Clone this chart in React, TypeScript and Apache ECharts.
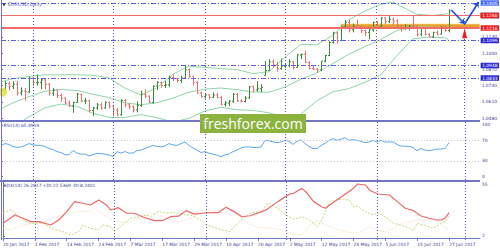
import React, { useEffect, useRef } from "react";
import * as echarts from "echarts";

// ---------- data ----------
const dateLabels = ["20 Jan 2017", "1 Feb 2017", "13 Feb 2017", "23 Feb 2017", "7 Mar 2017", "17 Mar 2017", "29 Mar 2017", "10 Apr 2017", "20 Apr 2017", "2 May 2017", "12 May 2017", "24 May 2017", "5 Jun 2017", "15 Jun 2017", "27 Jun 2017"];
const dateTickIndex = [0, 8, 16, 24, 32, 40, 48, 56, 64, 72, 80, 88, 96, 104, 112];
const monthStartIndex = [8, 28, 51, 71, 94, 116];
const priceTicks = [1.048, 1.061, 1.074, 1.087, 1.1, 1.113];
const rsiTicks = [0, 30, 70, 100];
const rsiLevels = [70, 30];
const adxTicks = [2, 55];

// open, high, low, close (one row per daily bar, 20 Jan 2017 .. 27 Jun 2017)
const ohlc = [
  [1.0655, 1.0719, 1.0627, 1.0703], [1.0703, 1.0775, 1.0695, 1.0755], [1.0755, 1.0773, 1.0700, 1.0731], [1.0731, 1.0775, 1.0712, 1.0750], [1.0750, 1.0777, 1.0661, 1.0680],
  [1.0680, 1.0724, 1.0660, 1.0696], [1.0696, 1.0720, 1.0618, 1.0690], [1.0690, 1.0810, 1.0680, 1.0798], [1.0798, 1.0810, 1.0733, 1.0762], [1.0762, 1.0829, 1.0740, 1.0765],
  [1.0765, 1.0795, 1.0710, 1.0785], [1.0785, 1.0790, 1.0709, 1.0750], [1.0750, 1.0760, 1.0660, 1.0680], [1.0680, 1.0720, 1.0658, 1.0703], [1.0703, 1.0708, 1.0640, 1.0660],
  [1.0660, 1.0674, 1.0608, 1.0640], [1.0640, 1.0645, 1.0590, 1.0600], [1.0600, 1.0620, 1.0570, 1.0575], [1.0575, 1.0610, 1.0522, 1.0605], [1.0605, 1.0680, 1.0600, 1.0670],
  [1.0670, 1.0675, 1.0605, 1.0615], [1.0615, 1.0640, 1.0590, 1.0618], [1.0618, 1.0625, 1.0525, 1.0540], [1.0540, 1.0570, 1.0495, 1.0560], [1.0560, 1.0600, 1.0545, 1.0585],
  [1.0585, 1.0605, 1.0545, 1.0560], [1.0560, 1.0615, 1.0555, 1.0605], [1.0605, 1.0610, 1.0555, 1.0575], [1.0575, 1.0580, 1.0495, 1.0545], [1.0545, 1.0560, 1.0494, 1.0505],
  [1.0505, 1.0630, 1.0500, 1.0620], [1.0620, 1.0630, 1.0565, 1.0585], [1.0585, 1.0600, 1.0550, 1.0570], [1.0570, 1.0580, 1.0525, 1.0545], [1.0545, 1.0615, 1.0525, 1.0580],
  [1.0580, 1.0700, 1.0570, 1.0670], [1.0670, 1.0710, 1.0640, 1.0655], [1.0655, 1.0660, 1.0600, 1.0605], [1.0605, 1.0740, 1.0595, 1.0735], [1.0735, 1.0775, 1.0705, 1.0765],
  [1.0765, 1.0770, 1.0720, 1.0740], [1.0740, 1.0775, 1.0720, 1.0745], [1.0745, 1.0820, 1.0730, 1.0805], [1.0805, 1.0826, 1.0775, 1.0795], [1.0795, 1.0800, 1.0765, 1.0780],
  [1.0780, 1.0820, 1.0760, 1.0800], [1.0800, 1.0906, 1.0795, 1.0865], [1.0865, 1.0875, 1.0800, 1.0815], [1.0815, 1.0815, 1.0740, 1.0765], [1.0765, 1.0775, 1.0675, 1.0680],
  [1.0680, 1.0690, 1.0645, 1.0650], [1.0650, 1.0680, 1.0635, 1.0665], [1.0665, 1.0670, 1.0630, 1.0645], [1.0645, 1.0685, 1.0640, 1.0665], [1.0665, 1.0680, 1.0640, 1.0645],
  [1.0645, 1.0655, 1.0580, 1.0590], [1.0590, 1.0615, 1.0570, 1.0600], [1.0600, 1.0625, 1.0575, 1.0615], [1.0615, 1.0680, 1.0600, 1.0670], [1.0670, 1.0680, 1.0610, 1.0615],
  [1.0615, 1.0630, 1.0605, 1.0612], [1.0612, 1.0655, 1.0605, 1.0640], [1.0640, 1.0735, 1.0635, 1.0730], [1.0730, 1.0740, 1.0685, 1.0705], [1.0705, 1.0775, 1.0690, 1.0715],
  [1.0715, 1.0750, 1.0685, 1.0725], [1.0820, 1.0935, 1.0820, 1.0860], [1.0860, 1.0950, 1.0855, 1.0930], [1.0930, 1.0950, 1.0880, 1.0905], [1.0905, 1.0930, 1.0850, 1.0875],
  [1.0875, 1.0955, 1.0865, 1.0895], [1.0895, 1.0920, 1.0880, 1.0900], [1.0900, 1.0950, 1.0885, 1.0930], [1.0930, 1.0935, 1.0870, 1.0885], [1.0885, 1.0990, 1.0880, 1.0985],
  [1.0985, 1.0995, 1.0950, 1.0990], [1.0990, 1.1020, 1.0920, 1.0925], [1.0925, 1.0935, 1.0870, 1.0875], [1.0875, 1.0900, 1.0865, 1.0870], [1.0870, 1.0880, 1.0840, 1.0865],
  [1.0865, 1.0935, 1.0855, 1.0935], [1.0935, 1.0985, 1.0925, 1.0980], [1.0980, 1.1095, 1.0975, 1.1085], [1.1085, 1.1170, 1.1075, 1.1160], [1.1160, 1.1170, 1.1075, 1.1100],
  [1.1100, 1.1213, 1.1095, 1.1210], [1.1210, 1.1265, 1.1190, 1.1245], [1.1245, 1.1268, 1.1165, 1.1185], [1.1185, 1.1235, 1.1165, 1.1215], [1.1215, 1.1265, 1.1195, 1.1210],
  [1.1210, 1.1215, 1.1160, 1.1180], [1.1180, 1.1185, 1.1135, 1.1165], [1.1165, 1.1195, 1.1110, 1.1185], [1.1185, 1.1250, 1.1170, 1.1245], [1.1245, 1.1255, 1.1200, 1.1215],
  [1.1215, 1.1285, 1.1205, 1.1280], [1.1280, 1.1285, 1.1230, 1.1250], [1.1250, 1.1295, 1.1240, 1.1270], [1.1270, 1.1285, 1.1225, 1.1255], [1.1255, 1.1270, 1.1195, 1.1210],
  [1.1210, 1.1220, 1.1170, 1.1195], [1.1195, 1.1230, 1.1185, 1.1200], [1.1200, 1.1225, 1.1180, 1.1215], [1.1215, 1.1295, 1.1195, 1.1212], [1.1212, 1.1220, 1.1130, 1.1150],
  [1.1150, 1.1200, 1.1135, 1.1195], [1.1195, 1.1210, 1.1140, 1.1150], [1.1150, 1.1160, 1.1125, 1.1130], [1.1130, 1.1170, 1.1120, 1.1165], [1.1165, 1.1180, 1.1140, 1.1150],
  [1.1150, 1.1215, 1.1150, 1.1195], [1.1195, 1.1215, 1.1170, 1.1180], [1.1180, 1.1350, 1.1165, 1.1336],
];

// Bollinger bands, [bar index, price]
const bbUpper = [[0, 1.077], [3, 1.0795], [7, 1.0812], [11, 1.0826], [15, 1.0825], [19, 1.0826], [23, 1.0822], [27, 1.08], [31, 1.072], [35, 1.0664], [39, 1.0722], [43, 1.083], [47, 1.0895], [51, 1.0885], [55, 1.0875], [59, 1.0868], [63, 1.0835], [67, 1.085], [71, 1.0965], [75, 1.107], [79, 1.1065], [83, 1.114], [87, 1.1265], [91, 1.1335], [95, 1.139], [98, 1.1408], [101, 1.136], [104, 1.131], [108, 1.13], [112, 1.1315]];
const bbMiddle = [[0, 1.0555], [3, 1.0601], [7, 1.0651], [11, 1.0694], [15, 1.0708], [19, 1.07], [23, 1.067], [27, 1.0643], [31, 1.0602], [35, 1.0586], [39, 1.0602], [43, 1.0639], [47, 1.0686], [51, 1.0711], [55, 1.072], [59, 1.0707], [63, 1.0688], [67, 1.0686], [71, 1.0727], [75, 1.079], [79, 1.0841], [83, 1.0915], [87, 1.099], [91, 1.105], [95, 1.1107], [99, 1.1179], [103, 1.1212], [107, 1.1207], [111, 1.1203], [112, 1.121]];
const bbLower = [[0, 1.034], [3, 1.0407], [7, 1.049], [11, 1.0562], [15, 1.0591], [19, 1.0574], [23, 1.0518], [27, 1.0486], [31, 1.0484], [35, 1.0508], [39, 1.0482], [43, 1.0448], [47, 1.0477], [51, 1.0537], [55, 1.0565], [59, 1.0546], [63, 1.0541], [67, 1.0522], [71, 1.0489], [75, 1.051], [79, 1.0617], [83, 1.069], [87, 1.0715], [91, 1.0765], [95, 1.0824], [99, 1.0978], [103, 1.1112], [107, 1.1127], [111, 1.1123], [112, 1.1105]];

// RSI(14), one value per bar
const rsi = [
  60, 63.5, 62, 58, 56, 57, 60, 63.5, 61, 60,
  60, 58, 54, 52, 48, 46, 42, 41.5, 50, 45,
  43, 43, 39.6, 42, 44.6, 44, 43, 41.5, 38, 48,
  45, 48, 45, 45, 50, 51, 54, 57, 60, 58,
  57, 59, 63.5, 61, 60, 63.5, 66.6, 60, 55, 51,
  46, 48, 45, 43, 41, 38, 41.5, 43, 48, 51,
  55, 57, 57, 56, 56, 57, 70, 69, 67, 65.5,
  66.6, 70, 68, 62, 68, 71, 63.5, 58, 54, 54,
  60, 64, 70, 73, 70, 72, 75, 70, 71, 70,
  68, 65.5, 66.6, 70, 66.6, 70, 66.6, 67, 66.6, 62,
  58.5, 58.5, 58, 56, 49.6, 54, 51, 49.6, 51, 52.8,
  52.8, 54, 65.5,
];

// ADX(14), [bar index, value]
const adx = [[0, 15.2], [3, 23.8], [5, 20.4], [7, 16.9], [9, 16.9], [12, 13.4], [14, 18.6], [16, 27.3], [18, 37.7], [20, 36], [22, 34.2], [24, 39.4], [26, 34.2], [27, 29], [29, 31.4], [31, 25.6], [33, 25.6], [35, 22], [38, 17.9], [40, 17.9], [42, 22], [44, 22.6], [46, 28.3], [48, 24.7], [50, 25.6], [52, 26.2], [54, 26.2], [56, 31.8], [58, 27.3], [60, 22], [62, 23], [65, 27.3], [66, 29], [69, 37.7], [72, 45.6], [73, 46.3], [75, 51.5], [76, 48], [78, 37.7], [80, 32.4], [81, 30.8], [82, 34.2], [85, 42.8], [88, 51.5], [89, 56], [91, 55], [92, 49.8], [94, 45.6], [97, 44.6], [99, 37.7], [101, 30.8], [103, 28.3], [105, 22.8], [107, 20.4], [109, 18.6], [110, 18.6], [111, 20.5], [112, 26.3]];
const plusDI = [[0, 25.6], [2, 29.7], [5, 18.6], [7, 15.2], [10, 15.2], [12, 10], [15, 6.5], [17, 3], [19, 6.5], [20, 13.4], [22, 10], [24, 8.2], [25, 13.4], [27, 11.6], [28, 6.5], [30, 13.4], [32, 20.4], [34, 22], [36, 23.8], [37, 22], [39, 27.3], [41, 25.6], [42, 26.2], [44, 25.6], [46, 23.8], [47, 23.8], [49, 20.4], [51, 13.4], [53, 11], [55, 8.2], [57, 6.5], [58, 11.6], [60, 18.6], [62, 26], [65, 27.3], [66, 34.2], [67, 36], [69, 30.8], [71, 23.8], [73, 19.3], [75, 22], [77, 18.6], [79, 11.6], [80, 18.6], [82, 37.7], [84, 40.1], [87, 39.4], [88, 32.4], [89, 33], [91, 27.3], [92, 25.6], [93, 23.8], [94, 26.2], [96, 22], [98, 15.2], [100, 13.4], [102, 10], [103, 7.5], [104, 15.2], [107, 11.6], [108, 10], [110, 15.2], [111, 17], [112, 22.5]];
const minusDI = [[0, 10], [2, 8.2], [5, 13.4], [8, 15.2], [11, 17.9], [14, 22], [17, 25.6], [19, 27.3], [22, 27.3], [23, 30.8], [26, 22], [28, 18.6], [30, 15.2], [32, 16.9], [35, 22], [37, 25.6], [39, 23.8], [42, 18.6], [44, 16.9], [46, 18.6], [48, 22], [50, 27.3], [52, 29], [55, 25.6], [57, 29], [58, 25.6], [60, 20], [62, 14], [64, 11], [67, 10.5], [70, 8.2], [72, 4.8], [75, 3], [77, 13.4], [79, 18.6], [80, 15.2], [83, 10], [86, 6.5], [88, 4.8], [90, 6.5], [92, 11.6], [94, 8.2], [96, 6.5], [98, 10], [100, 15.2], [102, 16.9], [104, 18.6], [107, 18.6], [109, 18.6], [110, 13.4], [112, 8.24]];

// drawn objects on the price chart
const blueLevels = [1.1405, 1.1099, 1.0948, 1.0833];
const redLevels = [1.126, 1.1216];
const bidPrice = 1.1336;
const zoneStart = 85;
const zoneHigh = 1.1231;
const zoneLow = 1.1207;
const arrowPath = [[112.7, 1.1344], [116, 1.1232], [119.5, 1.1408]];
const signalPoint = [116, 1.1158];
const markerPoint = [0.4, 1.0688];

// ---------- styling ----------
const FONT = '"DejaVu Sans", sans-serif';
const AXIS_COLOR = "#7272c2";
const LABEL_COLOR = "#3c3c96";
const UP = "#3a8c3a";
const DOWN = "#f07070";
const BB = "#8fd6a8";
const X_MAX = 119.75;

function buildOption() {
  const xAxis = [0, 1, 2].map((g) =>
    g < 2
      ? { type: "value", gridIndex: g, min: 0, max: X_MAX, show: false }
      : {
          type: "value", gridIndex: 2, min: 0, max: X_MAX,
          axisLine: { show: true, lineStyle: { color: AXIS_COLOR, width: 1 } },
          axisTick: { show: true, customValues: dateTickIndex, length: 3, lineStyle: { color: AXIS_COLOR } },
          axisLabel: {
            customValues: dateTickIndex, formatter: (v: number) => dateLabels[Math.round(v / 8)] || "",
            fontSize: 4.4, fontFamily: FONT, color: LABEL_COLOR, align: "left", margin: 2,
          },
          splitLine: { show: false },
        }
  );
  const yAx = (g: number, min: number, max: number, ticks: number[], fmt: (v: number) => string) => ({
    type: "value", gridIndex: g, position: "right", min, max,
    axisLine: { show: true, lineStyle: { color: AXIS_COLOR, width: 1 } },
    axisTick: { show: true, customValues: ticks, length: 2, lineStyle: { color: AXIS_COLOR } },
    axisLabel: { customValues: ticks, formatter: fmt, fontSize: 4.4, fontFamily: FONT, color: LABEL_COLOR, margin: 2 },
    splitLine: { show: false },
  });
  const yAxis = [
    yAx(0, 1.0456, 1.1408, priceTicks, (v) => v.toFixed(4)),
    yAx(1, -7.5, 105.7, rsiTicks, (v) => String(v)),
    yAx(2, -2.2, 58.1, adxTicks, (v) => String(v)),
  ];

  const boxLabel = (text: string, bg: string) => ({
    show: true, position: "end", formatter: text, color: "#ffffff", backgroundColor: bg,
    fontSize: 4.4, fontFamily: FONT, padding: [1, 1.5, 0.5, 1.5], distance: 1,
  });
  const dashDot = [5, 2, 1, 2];
  const levelData: any[] = [
    ...blueLevels.map((v, k) => ({
      yAxis: v, lineStyle: { color: "#5c5cf0", type: dashDot, width: 1 },
      label: boxLabel(v.toFixed(4), k === 0 ? "#4a70f5" : "#2a2ad6"),
    })),
    {
      yAxis: bidPrice, lineStyle: { color: "#d4d4d4", type: "solid", width: 1 },
      label: boxLabel(bidPrice.toFixed(4), "#16166a"),
    },
    ...redLevels.map((v, k) => ({
      yAxis: v, lineStyle: { color: "#f26c6c", type: "solid", width: k === 0 ? 1 : 2 },
      label: boxLabel(v.toFixed(4), "#f01c1c"),
    })),
  ];

  const vLines = (g: number) => ({
    type: "line", xAxisIndex: g, yAxisIndex: g, data: [], silent: true, z: 1,
    markLine: {
      silent: true, symbol: ["none", "none"], label: { show: false },
      lineStyle: { color: "#5a5aa6", type: [1, 2], width: 1 },
      data: monthStartIndex.map((v) => ({ xAxis: v })),
    },
  });

  const renderBar = (params: any, api: any) => {
    const i = api.value(0);
    const o = api.value(1), h = api.value(2), l = api.value(3), c = api.value(4);
    const pH = api.coord([i, h]);
    const pL = api.coord([i, l]);
    const pO = api.coord([i, o]);
    const pC = api.coord([i, c]);
    const color = c >= o ? UP : DOWN;
    const x = Math.round(pH[0]) + 0.5;
    const st = { stroke: color, lineWidth: 1 };
    return {
      type: "group",
      children: [
        { type: "line", shape: { x1: x, y1: pH[1], x2: x, y2: pL[1] }, style: st },
        { type: "line", shape: { x1: x - 1.5, y1: pO[1], x2: x, y2: pO[1] }, style: st },
        { type: "line", shape: { x1: x, y1: pC[1], x2: x + 1.5, y2: pC[1] }, style: st },
      ],
    };
  };

  const lineS = (g: number, data: any[], color: string, width = 1, type: any = "solid", z = 3) => ({
    type: "line", xAxisIndex: g, yAxisIndex: g, data, showSymbol: false, symbol: "none", silent: true, z,
    lineStyle: { color, width, type }, clip: true,
  });

  const series: any[] = [
    vLines(0), vLines(1), vLines(2),
    {
      type: "line", xAxisIndex: 0, yAxisIndex: 0, data: [], silent: true, z: 2,
      markLine: { silent: true, symbol: ["none", "none"], data: levelData },
    },
    lineS(0, bbUpper, BB), lineS(0, bbMiddle, BB), lineS(0, bbLower, BB),
    {
      type: "custom", xAxisIndex: 0, yAxisIndex: 0, renderItem: renderBar, clip: true, silent: true, z: 4,
      data: ohlc.map((r, i) => [i, r[0], r[1], r[2], r[3]]),
      encode: { x: 0, y: [1, 2, 3, 4] },
    },
    {
      type: "line", xAxisIndex: 0, yAxisIndex: 0, data: [], silent: true, z: 6,
      markArea: {
        silent: true,
        data: [
          [{ coord: [zoneStart, zoneHigh + 0.0006], itemStyle: { color: "rgba(246,226,110,0.55)" } }, { coord: [X_MAX, zoneLow - 0.0006] }],
          [{ coord: [zoneStart, zoneHigh], itemStyle: { color: "#e6a12c" } }, { coord: [X_MAX, zoneLow] }],
        ],
      },
    },
    {
      type: "line", xAxisIndex: 0, yAxisIndex: 0, data: [], silent: true, z: 8,
      markLine: {
        silent: true, symbol: ["none", "arrow"], symbolSize: 5, label: { show: false },
        lineStyle: { color: "#1f4fe0", width: 1.6, type: "solid" },
        data: [
          [{ coord: arrowPath[0] }, { coord: arrowPath[1] }],
          [{ coord: arrowPath[1] }, { coord: arrowPath[2] }],
        ],
      },
      markPoint: {
        silent: true, label: { show: false },
        data: [
          { coord: signalPoint, symbol: "triangle", symbolSize: [5, 10], itemStyle: { color: "#ee1c1c" } },
          { coord: markerPoint, symbol: "circle", symbolSize: 9, itemStyle: { color: "rgba(228,226,60,0.85)" } },
        ],
      },
    },
    {
      type: "line", xAxisIndex: 1, yAxisIndex: 1, data: [], silent: true, z: 1,
      markLine: {
        silent: true, symbol: ["none", "none"], label: { show: false },
        lineStyle: { color: "#cfcfcf", type: [1, 2], width: 1 },
        data: rsiLevels.map((v) => ({ yAxis: v })),
      },
    },
    lineS(1, rsi.map((v, i) => [i, v]), "#5eaaf4", 1),
    lineS(2, minusDI, "#f7d6b4", 1, [1, 1.5]),
    lineS(2, plusDI, "#c4dc78", 1, [2, 1.5]),
    lineS(2, adx, "#f06868", 1.2),
  ];

  const graphic: any[] = [
    { type: "line", shape: { x1: 1.5, y1: 0, x2: 1.5, y2: 240 }, style: { stroke: AXIS_COLOR, lineWidth: 1 }, z: 50 },
    { type: "line", shape: { x1: 0, y1: 121, x2: 480, y2: 121 }, style: { stroke: "#7474c4", lineWidth: 2 }, z: 50 },
    { type: "line", shape: { x1: 0, y1: 181, x2: 480, y2: 181 }, style: { stroke: "#7474c4", lineWidth: 2 }, z: 50 },
    { type: "text", x: 2.5, y: 2.6, style: { text: "▼", fontSize: 3.6, fontFamily: FONT, fill: "#1e1e66" }, z: 60 },
    { type: "text", x: 8, y: 2.2, style: { text: "EURUSD,Daily", fontSize: 4.8, fontFamily: FONT, fill: "#6262c4" }, z: 60 },
    { type: "text", x: 3.5, y: 123, style: { text: "RSI(14) 65.4959", fontSize: 4.4, fontFamily: FONT, fill: "#3c3c96" }, z: 60 },
    { type: "text", x: 3.5, y: 183, style: { text: "ADX(14) 26.2817 +DI:22.5369 -DI:8.2401", fontSize: 4.4, fontFamily: FONT, fill: "#3c3c96" }, z: 60 },
    { type: "rect", shape: { x: 200, y: 114, width: 106, height: 19 }, style: { fill: "#8db33f" }, z: 70 },
    {
      type: "text", x: 253, y: 123.5,
      style: { text: "freshforex.com", fontSize: 14, fontFamily: '"Open Sans", sans-serif', fill: "#ffffff", align: "center", verticalAlign: "middle" },
      z: 71,
    },
  ];

  return {
    animation: false,
    backgroundColor: "#ffffff",
    grid: [
      { left: 1, right: 20, top: 2, height: 119 },
      { left: 1, right: 20, top: 122, height: 58 },
      { left: 1, right: 20, top: 182, height: 58 },
    ],
    xAxis,
    yAxis,
    series,
    graphic,
  };
}

export default function App() {
  const ref = useRef<HTMLDivElement>(null);
  useEffect(() => {
    const chart = echarts.init(ref.current!, null, { renderer: "svg" });
    chart.setOption(buildOption() as any);
    return () => chart.dispose();
  }, []);
  return <div ref={ref} style={{ position: "fixed", left: 0, top: 0, width: 500, height: 250, background: "#ffffff" }} />;
}
